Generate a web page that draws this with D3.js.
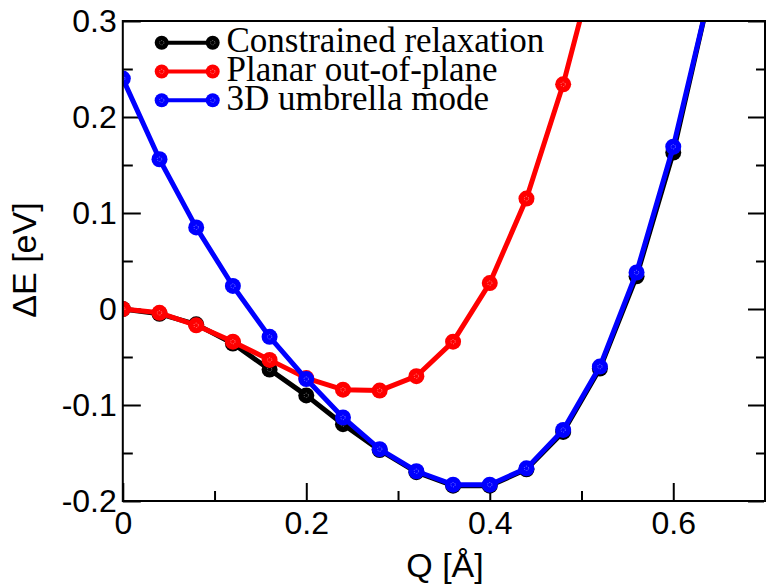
<!DOCTYPE html>
<html>
  <head>
    <title>Delta E vs Q</title>
    <script src="https://cdn.jsdelivr.net/npm/d3@7/dist/d3.min.js"></script>
    <style>
      body { margin: 0; background: #fff; }
      .tick text { font-family: "Liberation Sans", Arial, sans-serif; font-size: 32px; fill: #000; }
    </style>
  </head>
  <body>
    <svg width="766" height="587"></svg>
    <script>
      // data
      const q = [0, 0.04, 0.08, 0.12, 0.16, 0.20, 0.24, 0.28, 0.32, 0.36, 0.40, 0.44, 0.48, 0.52, 0.56, 0.60, 0.64];
      const constrained = [0, -0.005, -0.016, -0.036, -0.063, -0.090, -0.120, -0.147, -0.170, -0.184, -0.184, -0.167, -0.128, -0.062, 0.034, 0.163, 0.330];
      const planar = [0, -0.004, -0.017, -0.034, -0.053, -0.072, -0.084, -0.085, -0.070, -0.034, 0.027, 0.115, 0.234, 0.380];
      const umbrella = [0.240, 0.156, 0.085, 0.024, -0.029, -0.073, -0.113, -0.146, -0.169, -0.183, -0.183, -0.166, -0.126, -0.060, 0.038, 0.169, 0.330];

      const seriesNames = ['Constrained relaxation', 'Planar out-of-plane', '3D umbrella mode'];
      const seriesColors = ['#000000', '#ff0000', '#0000ff'];
      const seriesInner = ['#9a9a9a', '#ffb0b0', '#a0a0ff'];
      const seriesValues = [constrained, planar, umbrella];

      const xMajor = [0, 0.2, 0.4, 0.6];
      const xMinor = [0.1, 0.3, 0.5, 0.7];
      const yMajor = [-0.2, -0.1, 0, 0.1, 0.2, 0.3];
      const yMinor = [-0.15, -0.05, 0.05, 0.15, 0.25];
      const xTitle = 'Q [Å]';
      const yTitle = 'ΔE [eV]';

      const svg = d3.select('svg');
      const plot = {left: 122.8, right: 765, top: 21, bottom: 501};

      const x = d3.scaleLinear().domain([0, 0.7]).range([plot.left, plot.right]);
      const y = d3.scaleLinear().domain([-0.2, 0.3]).range([plot.bottom, plot.top]);

      // axes, ticks pointing inward; plain hyphen for the minus sign
      const fmt = d => d === 0 ? '0' : d3.format('.1f')(d).replace('\u2212', '-');

      svg.append('g')
        .attr('transform', `translate(0,${plot.bottom})`)
        .call(d3.axisBottom(x).tickValues(xMajor).tickSize(-18).tickPadding(10).tickFormat(fmt));
      svg.append('g')
        .attr('transform', `translate(0,${plot.bottom})`)
        .call(d3.axisBottom(x).tickValues(xMinor).tickSize(-10).tickFormat(''));

      svg.append('g')
        .attr('transform', `translate(${plot.left},0)`)
        .call(d3.axisLeft(y).tickValues(yMajor).tickSize(-18).tickPadding(6).tickFormat(fmt));
      svg.append('g')
        .attr('transform', `translate(${plot.left},0)`)
        .call(d3.axisLeft(y).tickValues(yMinor).tickSize(-10).tickFormat(''));

      svg.append('g')
        .attr('transform', `translate(${plot.right - 1},0)`)
        .call(d3.axisRight(y).tickValues(yMajor).tickSize(-16).tickFormat(''));
      svg.append('g')
        .attr('transform', `translate(${plot.right - 1},0)`)
        .call(d3.axisRight(y).tickValues(yMinor).tickSize(-8).tickFormat(''));

      svg.selectAll('.domain').remove();
      svg.selectAll('.tick line').attr('stroke', '#000').attr('stroke-width', 2);

      // clip for the curves
      svg.append('defs').append('clipPath').attr('id', 'clip')
        .append('rect')
        .attr('x', plot.left).attr('y', plot.top)
        .attr('width', plot.right - plot.left).attr('height', plot.bottom - plot.top);

      const curves = svg.append('g').attr('clip-path', 'url(#clip)');
      const line = d3.line().x(d => x(d[0])).y(d => y(d[1]));

      seriesValues.forEach((vals, i) => {
        const pts = vals.map((v, k) => [q[k], v]);
        const g = curves.append('g');
        g.append('path')
          .attr('d', line(pts))
          .attr('fill', 'none')
          .attr('stroke', seriesColors[i])
          .attr('stroke-width', 5)
          .attr('stroke-linejoin', 'round');
        g.selectAll('circle.m').data(pts).enter().append('circle')
          .attr('class', 'm')
          .attr('cx', d => x(d[0])).attr('cy', d => y(d[1]))
          .attr('r', 8)
          .attr('fill', seriesColors[i]);
        g.selectAll('circle.c').data(pts).enter().append('circle')
          .attr('class', 'c')
          .attr('cx', d => x(d[0])).attr('cy', d => y(d[1]))
          .attr('r', 2.2)
          .attr('fill', 'none')
          .attr('stroke', seriesInner[i])
          .attr('stroke-width', 0.7)
          .attr('stroke-dasharray', '1,1.2');
      });

      // frame (no ticks on top)
      svg.append('rect')
        .attr('x', plot.left).attr('y', plot.top)
        .attr('width', plot.right - plot.left).attr('height', plot.bottom - plot.top)
        .attr('fill', 'none').attr('stroke', '#000').attr('stroke-width', 2);

      // legend
      const legend = svg.append('g');
      seriesNames.forEach((name, i) => {
        const ly = 42.7 + i * 28.8;
        legend.append('line')
          .attr('x1', 161.7).attr('x2', 212.7).attr('y1', ly).attr('y2', ly)
          .attr('stroke', seriesColors[i]).attr('stroke-width', 4);
        [161.7, 212.7].forEach(cx => {
          legend.append('circle').attr('cx', cx).attr('cy', ly).attr('r', 7)
            .attr('fill', seriesColors[i]);
          legend.append('circle').attr('cx', cx).attr('cy', ly).attr('r', 2.2)
            .attr('fill', 'none').attr('stroke', seriesInner[i])
            .attr('stroke-width', 0.7).attr('stroke-dasharray', '1,1.2');
        });
        legend.append('text')
          .attr('x', 226.5).attr('y', ly + 9.3)
          .style('font-family', '"Liberation Serif", "Times New Roman", serif')
          .style('font-size', '35px')
          .text(name);
      });

      // axis titles
      svg.append('text')
        .attr('x', 445).attr('y', 577)
        .attr('text-anchor', 'middle')
        .style('font-family', '"Liberation Sans", Arial, sans-serif')
        .style('font-size', '34px')
        .text(xTitle);
      svg.append('text')
        .attr('transform', 'translate(36,260) rotate(-90)')
        .attr('text-anchor', 'middle')
        .style('font-family', '"Liberation Sans", Arial, sans-serif')
        .style('font-size', '34px')
        .text(yTitle);
    </script>
  </body>
</html>
